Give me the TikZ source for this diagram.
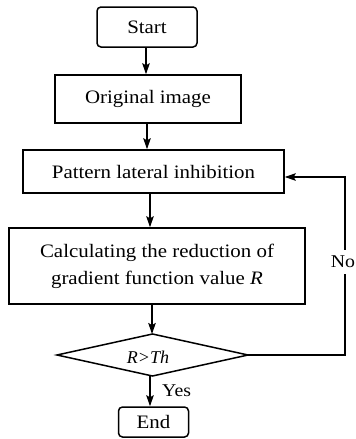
\documentclass[tikz,border=0pt]{standalone}
\usepackage{fontspec}
\setmainfont{Liberation Serif}[FakeStretch=1.1]
\newfontfamily\plainserif{Liberation Serif}
\usetikzlibrary{arrows.meta,calc}
\begin{document}
\begin{tikzpicture}[x=1pt,y=-1pt,
  box/.style={draw,line width=1.5pt,minimum width=#1,inner sep=0pt,align=center,
    font=\fontsize{19}{27}\selectfont},
  rbox/.style={box=#1,rounded corners=4pt},
  dia/.style={draw,line width=1.5pt,inner sep=0pt},
  arr/.style={line width=1.5pt,-{Stealth[length=11pt,width=7.5pt,inset=2pt]}},
  lbl/.style={font=\fontsize{18}{20}\selectfont,inner sep=1pt}]
\useasboundingbox (0,0) rectangle (356,439);
\fill[white] (0,0) rectangle (356,439);
\node[rbox=100pt,minimum height=40pt] (start) at (147,27) {Start};
\node[box=186pt,minimum height=48pt] (orig) at (148,99) {Original image};
\node[box=261pt,minimum height=43pt] (pat) at (153.5,171.5) {Pattern lateral inhibition};
\node[box=296pt,minimum height=76pt] (calc) at (157,266) {Calculating the reduction of\\gradient function value \textit{R}};
\draw[dia] (57,355) coordinate (dW) -- (152.5,334) coordinate (dN) -- (248,355) coordinate (dE) -- (152.5,376) coordinate (dS) -- cycle;
\node[font=\plainserif\itshape\fontsize{18}{20}\selectfont,inner sep=0pt] (dia) at (148,357) {R>Th};
\node[rbox=70pt,minimum height=30pt] (end) at (153.5,422) {End};
\draw[arr] ([xshift=-1pt]start.south) -- ([xshift=-1pt]start.south |- orig.north);
\draw[arr] ([xshift=-1pt]orig.south) -- ([xshift=-1pt]orig.south |- pat.north);
\draw[arr] ([xshift=-3.5pt]pat.south) -- ([xshift=-3.5pt]pat.south |- calc.north);
\draw[arr] ([xshift=-5pt]calc.south) -- ([xshift=-5pt]calc.south |- dN);
\draw[arr] ([xshift=-2.5pt]dS) -- ([xshift=-2.5pt]dS |- end.north);
\coordinate (c1) at (345,355);
\coordinate (c2) at (345,177);
\draw[arr] (dE) -- (c1) -- (c2) -- (pat.east |- c2);
\node[lbl,fill=white,inner ysep=6pt] (no) at (343,262) {No};
\node[lbl,anchor=west] (yes) at (161,391) {Yes};
\end{tikzpicture}
\end{document}
